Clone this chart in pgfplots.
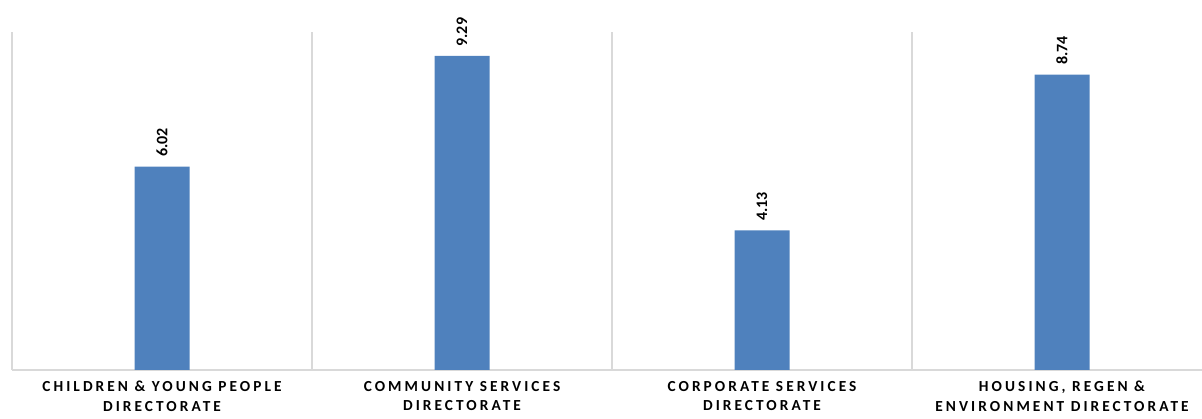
\documentclass[border=0pt]{standalone}
\usepackage{fontspec}
\setmainfont{Carlito}
\newfontfamily\catfont[LetterSpace=20]{Carlito}
\usepackage{pgfplots}
\pgfplotsset{compat=1.18}
\definecolor{barblue}{HTML}{4F81BD}
\definecolor{gridgray}{HTML}{D9D9D9}
\begin{document}
\begin{tikzpicture}
\begin{axis}[
    scale only axis,
    width=892.5pt, height=253.5pt,
    xmin=-0.5, xmax=3.4667,
    ymin=0, ymax=10,
    axis x line*=bottom,
    axis y line=none,
    x axis line style={gridgray, line width=1.2pt, -},
    xtick={0,1,2,3},
    xticklabels={CHILDREN \& YOUNG PEOPLE\\DIRECTORATE,
                 COMMUNITY SERVICES\\DIRECTORATE,
                 CORPORATE SERVICES\\DIRECTORATE,
                 {HOUSING, REGEN \&}\\ENVIRONMENT DIRECTORATE},
    xticklabel style={font=\catfont\bfseries\fontsize{11.5}{14.5}\selectfont, align=center, yshift=-5pt},
    major tick length=0pt,
    minor xtick={-0.5,0.5,1.5,2.5},
    minor tick length=0pt,
    xminorgrids=true,
    minor grid style={gridgray, line width=1.2pt},
    ytick=\empty,
    ybar, bar width=41.25pt,
    nodes near coords={\pgfmathprintnumber[assume math mode=true,fixed,fixed zerofill,precision=2]{\pgfplotspointmeta}},
    nodes near coords style={rotate=90, anchor=west, font=\bfseries\fontsize{12}{14}\selectfont, inner xsep=7pt, black},
    clip=false,
]
\addplot[fill=barblue, draw=none] coordinates {(0,6.02) (1,9.29) (2,4.13) (3,8.74)};
\end{axis}
\pgfresetboundingbox
\path[use as bounding box] ([xshift=-9pt,yshift=-36.75pt]current axis.south west) rectangle ([yshift=24pt]current axis.north east);
\end{tikzpicture}
\end{document}
